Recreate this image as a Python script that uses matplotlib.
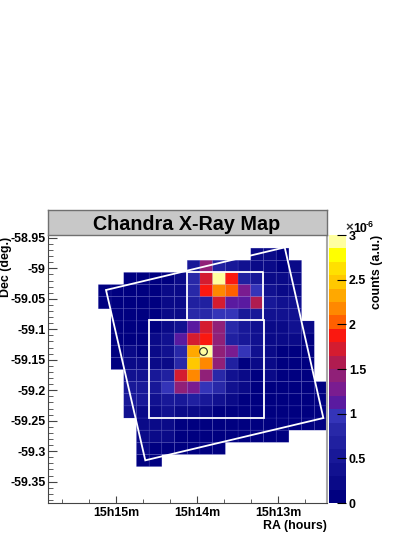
import numpy as np
import matplotlib
matplotlib.use("Agg")
import matplotlib.pyplot as plt
from matplotlib.colors import ListedColormap, Normalize
from matplotlib.ticker import FixedLocator, MultipleLocator

plt.rcParams['font.family'] = ['Liberation Sans', 'DejaVu Sans']
plt.rcParams['font.weight'] = 'bold'

# ==================================================
# DATA
# ==================================================

_ = np.nan

# counts in units of 1e-6, first row is the top of the map (22 x 22 bins)
counts = [
    [_]*22,
    [_]*16 + [.22, .22, .07] + [_]*3,
    [_]*11 + [.53, 1.43, .68, .53, .38, .22, .22, .07, .22] + [_]*2,
    [_]*6 + [.07, .07, .07, .07, .22, .83, 1.73, 2.93, 1.88, .68, .53, .22, .22, .22] + [_]*2,
    [_]*4 + [.07, .07, .07, .07, .07, .22, .22, .83, 1.88, 2.18, 2.03, 1.28, .98, .38, .22, .22] + [_]*2,
    [_]*4 + [.07, .07, .07, .07, .07, .22, .22, .68, .68, 1.73, 1.13, 1.13, 1.58, .53, .38, .38] + [_]*2,
    [_]*5 + [.07, .07, .07, .07, .22, .22, .83, .83, .98, .98, .53, .53, .38, .38, .38] + [_]*2,
    [_]*5 + [.07, .07, .07, .07, .22, .38, 1.13, 1.73, 1.43, .83, .53, .38, .22, .22, .38, .22] + [_],
    [_]*5 + [.07, .07, .07, .22, .38, 1.13, 1.73, 1.88, 1.43, .68, .53, .38, .22, .22, .22, .07] + [_],
    [_]*5 + [.07, .22, .07, .22, .38, .83, 2.33, 2.93, 1.43, 1.28, .98, .38, .22, .07, .07, .07] + [_],
    [_]*5 + [.07, .22, .22, .22, .22, .83, 2.48, 2.18, 1.43, .68, .07, .22, .22, .07, .07, .07] + [_],
    [_]*6 + [.38, .38, .53, .68, 1.73, 2.18, 1.43, .83, .38, .22, .07, .22, .07, .07, .07] + [_],
    [_]*6 + [.53, .53, .53, .98, 1.43, 1.28, .98, .83, .38, .22, .07, .07, .07, .07, .07, .07],
    [_]*6 + [.53, .53, .38, .53, .53, .68, .53, .38, .22, .07, .07, .07, .07, .07, .07, .07],
    [_]*6 + [.38, .22, .22, .38, .22, .22, .22, .07, .07, .07, .07, .07, .07, .07, .07, .07],
    [_]*7 + [.22, .22, .22, .07, .07, .07, .07, .07, .07, .07, .07, .07, .07, .07, .07],
    [_]*7 + [.22, .22, .22, .07, .07, .07, .07, .07, .07, .07, .07, .07] + [_]*3,
    [_]*7 + [.22, .07, .07, .07, .07, .07, .07] + [_]*8,
    [_]*7 + [.07, .07] + [_]*13,
    [_]*22,
    [_]*22,
    [_]*22,
]

# map range: RA in minutes after 15h, Dec in degrees
ra_range = [15.844, 12.4]
dec_range = [-58.947, -59.385]

# colour bands, bottom to top
band_colors = [
    '#000080', '#0a0a88', '#111190', '#181898', '#2020a0', '#2828a8', '#3434b8',
    '#5a1aa0', '#7a1c90', '#902078', '#b01c50', '#d41c30', '#fa1810', '#ff6000',
    '#ff8800', '#ffa800', '#ffc800', '#ffe000', '#ffff00', '#ffffa0',
]

# white regions overlaid on the map
outer_ra = [15.123, 12.921, 12.445, 14.639]
outer_dec = [-59.0356, -58.9657, -59.2456, -59.315]
upper_ra = [14.121, 13.185]
upper_dec = [-59.0053, -59.0847]
lower_ra = [14.590, 13.182]
lower_dec = [-59.0847, -59.2451]
source_ra = 13.932
source_dec = -59.1354

ra_ticks = [15, 14, 13]
ra_labels = ['15h15m', '15h14m', '15h13m']
dec_ticks = [-58.95, -59, -59.05, -59.1, -59.15, -59.2, -59.25, -59.3, -59.35]
dec_labels = ['-58.95', '-59', '-59.05', '-59.1', '-59.15', '-59.2', '-59.25', '-59.3', '-59.35']
bar_ticks = [0, 0.5, 1, 1.5, 2, 2.5, 3]
bar_labels = ['0', '0.5', '1', '1.5', '2', '2.5', '3']

# ==================================================
# FIGURE
# ==================================================

W, H = 415, 537


def box(x0, y0, x1, y1):
    # pixel box (y down) to figure coordinates
    return [x0 / W, 1 - y1 / H, (x1 - x0) / W, (y1 - y0) / H]


fig = plt.figure(figsize=(W / 100, H / 100), dpi=100, facecolor='white')
ax = fig.add_axes(box(47.5, 236, 327, 503))

cmap = ListedColormap(band_colors)
norm = Normalize(0, 3)
ra_edges = np.linspace(ra_range[0], ra_range[1], 23)
dec_edges = np.linspace(dec_range[0], dec_range[1], 23)
mesh = ax.pcolor(ra_edges, dec_edges, np.ma.masked_invalid(counts), cmap=cmap, norm=norm,
                 edgecolors=(0.55, 0.55, 1, 0.16), linewidth=0.4)

ax.set_xlim(ra_range)
ax.set_ylim(dec_range[1], dec_range[0])

# white regions
ax.fill(outer_ra, outer_dec, fill=False, edgecolor='white', linewidth=1.3)
ax.plot([upper_ra[0], upper_ra[0], upper_ra[1], upper_ra[1]],
        [upper_dec[1], upper_dec[0], upper_dec[0], upper_dec[1]], color='white', linewidth=1.3)
ax.fill([lower_ra[0], lower_ra[1], lower_ra[1], lower_ra[0]],
        [lower_dec[0], lower_dec[0], lower_dec[1], lower_dec[1]],
        fill=False, edgecolor='white', linewidth=1.3)
ax.plot(source_ra, source_dec, 'o', mfc='none', mec='#222222', ms=5.5, mew=0.8)

# axes
for side in ['top']:
    ax.spines[side].set_visible(False)
ax.spines['right'].set_color('#a8a8a8')
ax.spines['right'].set_linewidth(1.5)
ax.spines['left'].set_color('#444444')
ax.spines['bottom'].set_color('#444444')
ax.xaxis.set_major_locator(FixedLocator(ra_ticks))
ax.xaxis.set_minor_locator(MultipleLocator(1 / 3))
ax.set_xticklabels(ra_labels)
ax.yaxis.set_major_locator(FixedLocator(dec_ticks))
ax.yaxis.set_minor_locator(MultipleLocator(0.01))
ax.set_yticklabels(dec_labels)
ax.tick_params(axis='x', which='major', direction='in', length=5.3, color='#444444', labelsize=8.9, pad=3)
ax.tick_params(axis='x', which='minor', direction='in', length=2.6, color='#444444')
ax.tick_params(axis='y', which='major', direction='in', length=6.5, color='#444444', labelsize=8.9, pad=1.5)
ax.tick_params(axis='y', which='minor', direction='in', length=3.3, color='#444444')

fig.text(326.7 / W, 1 - 526.5 / H, 'RA (hours)', ha='right', va='center', fontsize=8.9)
fig.text(6 / W, 1 - 237 / H, 'Dec (deg.)', ha='center', va='top', rotation=90, fontsize=8.9)

# title box
title_ax = fig.add_axes(box(47.5, 209.5, 327, 235), facecolor='#c8c8c8')
title_ax.set_xticks([])
title_ax.set_yticks([])
for spine in title_ax.spines.values():
    spine.set_color('#707070')
    spine.set_linewidth(1.0)
title_ax.text(0.498, 0.41, 'Chandra X-Ray Map', transform=title_ax.transAxes,
              ha='center', va='center', fontsize=14.25)

# colour bar
cax = fig.add_axes(box(328.5, 235, 346, 503))
bar = fig.colorbar(mesh, cax=cax)
bar.outline.set_visible(False)
bar.set_ticks(bar_ticks)
bar.set_ticklabels(bar_labels)
bar.ax.tick_params(direction='in', length=6.5, width=0.8, color='black', labelsize=8.9, pad=2)
fig.text(349.5 / W, 1 - 228 / H, '×', ha='center', va='center', fontsize=9.5, color='#333333')
fig.text(353 / W, 1 - 229 / H, '10', ha='left', va='center', fontsize=8.9)
fig.text(365.5 / W, 1 - 225 / H, '-6', ha='left', va='center', fontsize=6.2)
fig.text(377 / W, 1 - 235 / H, 'counts (a.u.)', ha='center', va='top', rotation=90, fontsize=8.9)

fig.savefig('out.png', dpi=100)
